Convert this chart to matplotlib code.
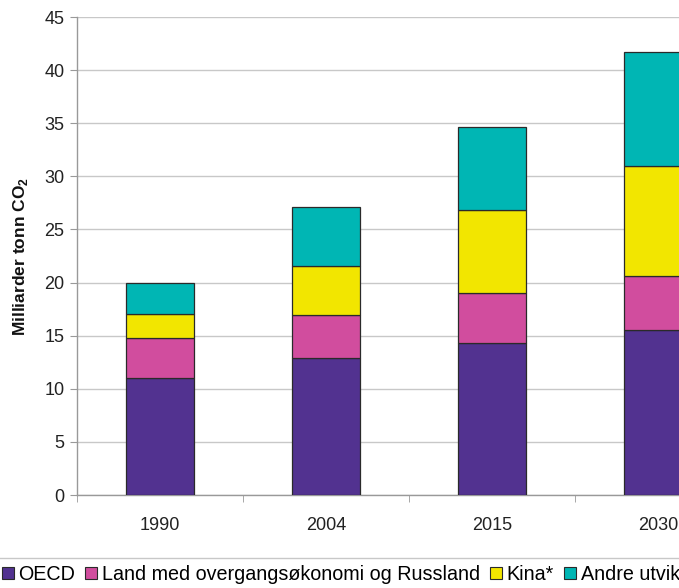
import matplotlib
matplotlib.use("Agg")
import matplotlib.pyplot as plt
from matplotlib.patches import Patch
import numpy as np

plt.rcParams['font.family'] = ['Liberation Sans', 'DejaVu Sans']
plt.rcParams['mathtext.fontset'] = 'custom'
plt.rcParams['mathtext.rm'] = 'Liberation Sans'
plt.rcParams['mathtext.bf'] = 'Liberation Sans:bold'

years = ['1990', '2004', '2015', '2030']
oecd = [11.0, 12.9, 14.3, 15.5]
overgang = [3.8, 4.0, 4.75, 5.15]
kina = [2.2, 4.7, 7.75, 10.3]
andre = [3.0, 5.5, 7.8, 10.75]

series = [
    ('OECD', oecd, '#523290'),
    ('Land med overgangsøkonomi og Russland', overgang, '#d14d9e'),
    ('Kina*', kina, '#f2e600'),
    ('Andre utviklingsland', andre, '#00b6b4'),
]

fig = plt.figure(figsize=(6.79, 5.88), dpi=100)
ax = fig.add_axes([77 / 679, 93 / 588, 664 / 679, 478 / 588])

x = np.arange(len(years))
bottom = np.zeros(len(years))
for name, vals, color in series:
    ax.bar(x, vals, width=0.405, bottom=bottom, color=color,
           edgecolor='#2a2a2a', linewidth=0.9, zorder=3)
    bottom += np.array(vals)

ax.set_xlim(-0.5, 3.5)
ax.set_ylim(0, 45)
ax.set_yticks(np.arange(0, 46, 5))
ax.yaxis.grid(True, color='#c8c8c8', linewidth=1.0, zorder=0)
ax.set_axisbelow(True)

ax.set_xticks(x)
ax.set_xticklabels(years, fontsize=13, color='#222222')
ax.set_xticks(np.arange(-0.5, 3.6, 1), minor=True)
ax.tick_params(axis='x', which='major', length=0, pad=16)
ax.tick_params(axis='x', which='minor', length=5, color='#999999', direction='out')
ax.tick_params(axis='y', length=5, color='#999999', labelsize=13,
               labelcolor='#222222', pad=4)

for side in ('top', 'right'):
    ax.spines[side].set_visible(False)
for side in ('left', 'bottom'):
    ax.spines[side].set_color('#999999')
    ax.spines[side].set_linewidth(1.0)

ax.set_ylabel(r'Milliarder tonn CO$_\mathbf{2}$', fontsize=12.5,
              fontweight='bold', labelpad=10, color='#111111')

handles = [Patch(facecolor=c, edgecolor='#2a2a2a', linewidth=0.8, label=n)
           for n, _, c in series]
leg = fig.legend(handles=handles, loc='upper left', ncol=4,
                 bbox_to_anchor=(-0.0076, 0.051), fontsize=14.2,
                 handlelength=0.6, handleheight=0.6, handletextpad=0.25,
                 columnspacing=0.5, borderpad=0.35, borderaxespad=0,
                 frameon=True, fancybox=False)
leg.get_frame().set_edgecolor('#bbbbbb')
leg.get_frame().set_linewidth(1.0)

fig.savefig('out.png', dpi=100)
